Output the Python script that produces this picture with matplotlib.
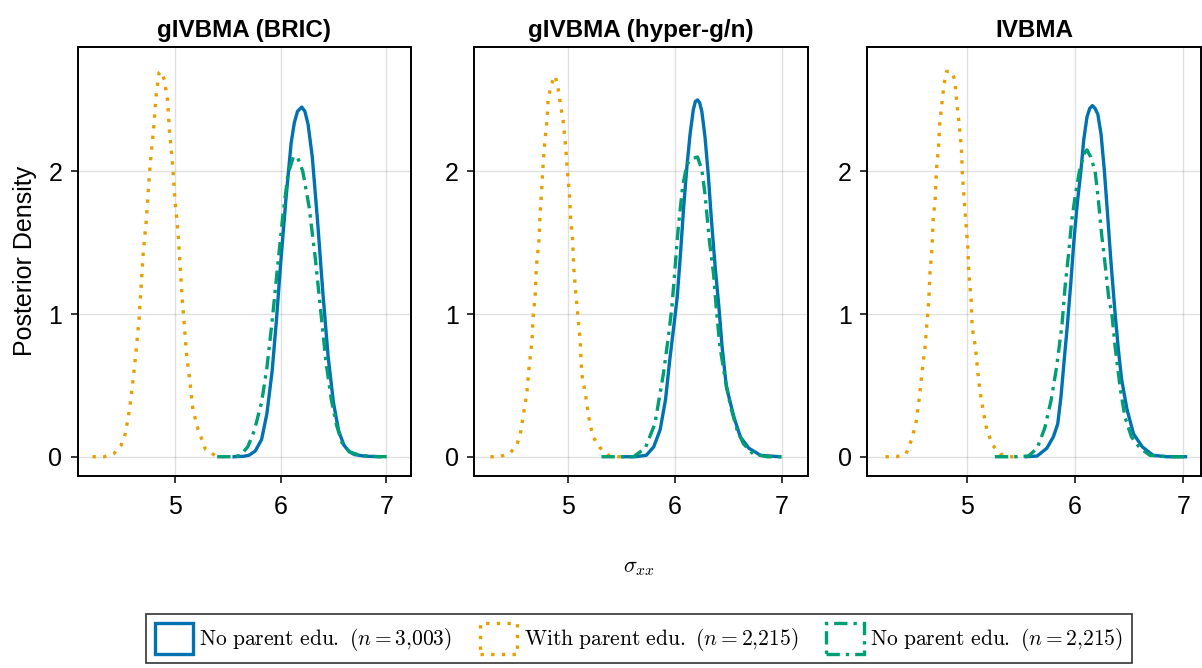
import numpy as np
import matplotlib.pyplot as plt
from matplotlib.patches import Rectangle

plt.rcParams['font.family'] = ['Liberation Sans', 'DejaVu Sans']
plt.rcParams['mathtext.fontset'] = 'cm'

# panel titles and legend labels
titles = ['gIVBMA (BRIC)', 'gIVBMA (hyper-g/n)', 'IVBMA']
labels = [r'$\mathrm{No\ parent\ edu.\ }(n = 3{,}003)$',
          r'$\mathrm{With\ parent\ edu.\ }(n = 2{,}215)$',
          r'$\mathrm{No\ parent\ edu.\ }(n = 2{,}215)$']

# gIVBMA (BRIC)
bric_blue_x = [5.56, 5.65, 5.70, 5.76, 5.82, 5.87, 5.92, 5.96, 6.00, 6.05, 6.10, 6.13, 6.16, 6.20, 6.23,
               6.26, 6.30, 6.35, 6.40, 6.45, 6.50, 6.55, 6.60, 6.65, 6.70, 6.80, 6.94]
bric_blue_y = [0, 0.003, 0.01, 0.04, 0.12, 0.30, 0.60, 0.95, 1.35, 1.80, 2.20, 2.34, 2.42, 2.45, 2.42,
               2.33, 2.10, 1.65, 1.15, 0.70, 0.38, 0.18, 0.08, 0.035, 0.015, 0.004, 0]
bric_orange_x = [4.22, 4.33, 4.42, 4.49, 4.53, 4.57, 4.60, 4.63, 4.66, 4.68, 4.70, 4.73, 4.75, 4.77,
                 4.80, 4.82, 4.85, 4.87, 4.90, 4.93, 4.95, 4.98, 5.00, 5.03, 5.05, 5.07, 5.09, 5.11,
                 5.14, 5.17, 5.22, 5.29, 5.39, 5.47]
bric_orange_y = [0, 0, 0.02, 0.08, 0.16, 0.33, 0.51, 0.72, 0.96, 1.19, 1.43, 1.66, 1.89, 2.08,
                 2.31, 2.52, 2.69, 2.70, 2.64, 2.50, 2.27, 2.03, 1.80, 1.57, 1.33, 1.10, 0.91, 0.72,
                 0.54, 0.33, 0.19, 0.05, 0.005, 0]
bric_green_x = [5.40, 5.55, 5.62, 5.69, 5.75, 5.82, 5.87, 5.92, 5.97, 6.02, 6.07, 6.12, 6.16, 6.21,
                6.27, 6.33, 6.38, 6.43, 6.48, 6.53, 6.58, 6.65, 6.75, 6.90, 7.05]
bric_green_y = [0, 0, 0.01, 0.07, 0.18, 0.38, 0.62, 0.95, 1.32, 1.68, 1.98, 2.10, 2.10, 2.00,
                1.75, 1.38, 1.02, 0.66, 0.40, 0.22, 0.10, 0.035, 0.01, 0.001, 0]

# gIVBMA (hyper-g/n)
hyper_blue_x = [5.52, 5.625, 5.73, 5.80, 5.86, 5.91, 5.95, 5.99, 6.02, 6.05, 6.08, 6.11, 6.14, 6.17,
                6.19, 6.21, 6.23, 6.25, 6.28, 6.31, 6.34, 6.375, 6.41, 6.44, 6.48, 6.55, 6.61, 6.69,
                6.80, 6.98]
hyper_blue_y = [0, 0, 0.01, 0.07, 0.19, 0.40, 0.68, 0.93, 1.12, 1.42, 1.75, 2.03, 2.26, 2.43,
                2.49, 2.50, 2.48, 2.42, 2.24, 1.98, 1.66, 1.33, 1.05, 0.77, 0.49, 0.28, 0.14, 0.06,
                0.01, 0]
hyper_orange_x = [4.27, 4.36, 4.46, 4.52, 4.55, 4.58, 4.61, 4.63, 4.66, 4.67, 4.69, 4.70, 4.725, 4.735,
                  4.75, 4.76, 4.775, 4.80, 4.81, 4.84, 4.875, 4.90, 4.93, 4.95, 4.975, 4.99, 5.01,
                  5.02, 5.04, 5.05, 5.07, 5.09, 5.11, 5.125, 5.16, 5.19, 5.23, 5.30, 5.375, 5.47, 5.56]
hyper_orange_y = [0, 0, 0.03, 0.09, 0.16, 0.30, 0.44, 0.61, 0.82, 0.98, 1.14, 1.33, 1.52, 1.70,
                  1.87, 2.01, 2.17, 2.36, 2.50, 2.61, 2.67, 2.60, 2.45, 2.36, 2.17, 2.01, 1.84,
                  1.68, 1.52, 1.33, 1.14, 0.98, 0.82, 0.58, 0.44, 0.28, 0.14, 0.06, 0.01, 0, 0]
hyper_green_x = [5.31, 5.42, 5.61, 5.72, 5.81, 5.89, 5.94, 5.97, 6.00, 6.03, 6.07, 6.11, 6.16, 6.21,
                 6.25, 6.28, 6.32, 6.36, 6.39, 6.42, 6.47, 6.52, 6.58, 6.64, 6.73, 6.86, 7.05]
hyper_green_y = [0, 0, 0, 0.06, 0.23, 0.58, 0.86, 1.05, 1.33, 1.61, 1.89, 2.05, 2.09, 2.10,
                 2.01, 1.84, 1.52, 1.28, 1.00, 0.77, 0.54, 0.35, 0.19, 0.09, 0.02, 0, 0]

# IVBMA
ivbma_blue_x = [5.55, 5.65, 5.74, 5.80, 5.84, 5.87, 5.90, 5.93, 5.96, 5.99, 6.02, 6.055, 6.08, 6.11,
                6.135, 6.16, 6.185, 6.21, 6.24, 6.27, 6.30, 6.33, 6.37, 6.40, 6.43, 6.48, 6.54, 6.62,
                6.72, 6.85, 7.02]
ivbma_blue_y = [0, 0.005, 0.06, 0.14, 0.23, 0.42, 0.68, 0.93, 1.21, 1.52, 1.77, 2.01, 2.22, 2.38,
                2.44, 2.46, 2.44, 2.40, 2.26, 2.01, 1.70, 1.38, 1.00, 0.75, 0.54, 0.33, 0.16, 0.07,
                0.01, 0, 0]
ivbma_orange_x = [4.25, 4.35, 4.44, 4.49, 4.53, 4.56, 4.59, 4.615, 4.63, 4.65, 4.66, 4.68, 4.69, 4.71,
                  4.72, 4.74, 4.75, 4.77, 4.79, 4.815, 4.86, 4.89, 4.91, 4.93, 4.95, 4.96, 4.975,
                  4.99, 5.01, 5.02, 5.04, 5.05, 5.08, 5.10, 5.12, 5.15, 5.185, 5.24, 5.31, 5.385, 5.48]
ivbma_orange_y = [0, 0, 0.02, 0.12, 0.23, 0.40, 0.61, 0.77, 0.91, 1.10, 1.28, 1.47, 1.66, 1.82,
                  2.01, 2.17, 2.33, 2.47, 2.61, 2.70, 2.70, 2.64, 2.47, 2.33, 2.17, 1.98, 1.82,
                  1.66, 1.47, 1.28, 1.10, 0.91, 0.77, 0.61, 0.47, 0.33, 0.19, 0.08, 0.02, 0, 0]
ivbma_green_x = [5.26, 5.46, 5.57, 5.65, 5.72, 5.78, 5.83, 5.88, 5.91, 5.94, 5.97, 6.00, 6.04, 6.08,
                 6.11, 6.145, 6.185, 6.215, 6.245, 6.28, 6.31, 6.34, 6.37, 6.415, 6.46, 6.52, 6.60,
                 6.69, 6.85, 7.02]
ivbma_green_y = [0, 0, 0.005, 0.06, 0.20, 0.40, 0.63, 0.93, 1.21, 1.42, 1.66, 1.82, 2.00, 2.12,
                 2.15, 2.10, 2.00, 1.80, 1.56, 1.33, 1.12, 1.00, 0.77, 0.49, 0.28, 0.14, 0.06,
                 0.01, 0, 0]

panels = [
    [(bric_blue_x, bric_blue_y), (bric_orange_x, bric_orange_y), (bric_green_x, bric_green_y)],
    [(hyper_blue_x, hyper_blue_y), (hyper_orange_x, hyper_orange_y), (hyper_green_x, hyper_green_y)],
    [(ivbma_blue_x, ivbma_blue_y), (ivbma_orange_x, ivbma_orange_y), (ivbma_green_x, ivbma_green_y)],
]
xlims = [(4.080, 7.236), (4.116, 7.240), (4.081, 7.160)]

colors = ['#0072B2', '#E69F00', '#009E73']
styles = ['-', (0, (1, 2.2)), (0, (4, 1.8, 1, 1.8))]

fig = plt.figure(figsize=(12.02, 6.68), dpi=100)
lefts = [77.7 / 1202, 474 / 1202, 867.2 / 1202]
w = 333.5 / 1202
b = 1 - 476 / 668
h = (476 - 46.7) / 668

for i, left in enumerate(lefts):
    ax = fig.add_axes([left, b, w, h])
    for (xs, ys), c, ls in zip(panels[i], colors, styles):
        ax.plot(xs, ys, color=c, linestyle=ls, lw=2.4)
    ax.set_xlim(*xlims[i])
    ax.set_ylim(-0.135, 2.873)
    ax.set_xticks([5, 6, 7])
    ax.set_yticks([0, 1, 2])
    ax.grid(True, color='#000000', alpha=0.12, lw=1)
    ax.set_axisbelow(True)
    for s in ax.spines.values():
        s.set_linewidth(1.4)
    ax.tick_params(axis='x', pad=9)
    ax.tick_params(axis='y', pad=6)
    ax.tick_params(labelsize=18, length=5, width=1.1)
    ax.set_title(titles[i], fontsize=17.5, fontweight='bold', pad=7)
    if i == 0:
        ax.set_ylabel('Posterior Density', fontsize=18, labelpad=8)

fig.text(639 / 1202, 1 - 568 / 668, r'$\sigma_{xx}$', fontsize=16, ha='center', va='center')

handles = [Rectangle((0, 0), 1, 1, facecolor='none', edgecolor=c, linestyle=ls, lw=2.4)
           for c, ls in zip(colors, styles)]
leg = fig.legend(handles, labels, loc='center', bbox_to_anchor=(639 / 1202, 1 - 638.5 / 668),
                 ncol=3, fontsize=15.5, frameon=True, fancybox=False, handlelength=1.75,
                 handleheight=1.9, handletextpad=0.3, columnspacing=1.3, borderpad=0.4)
leg.get_frame().set_edgecolor('black')
leg.get_frame().set_linewidth(1.2)

fig.savefig('out.png', dpi=100)
